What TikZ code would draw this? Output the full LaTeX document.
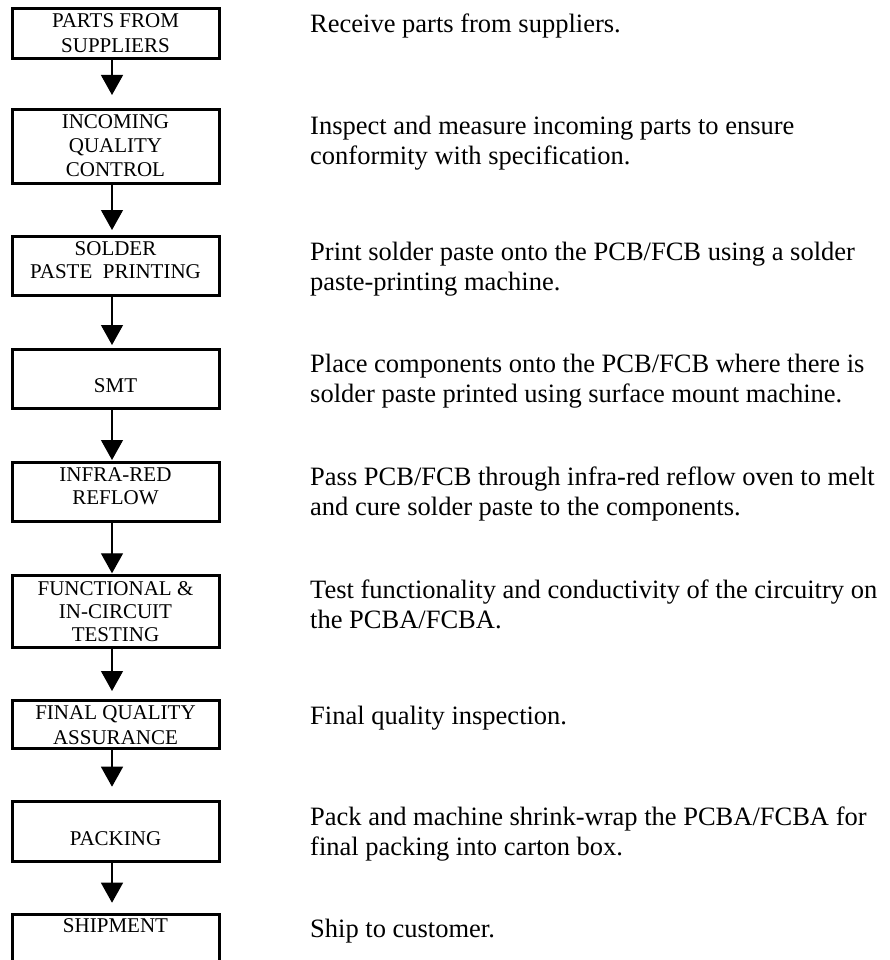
\documentclass[tikz,border=0pt]{standalone}
\usepackage{fontspec}
\setmainfont{Liberation Serif}
\usetikzlibrary{arrows.meta}
\tikzset{
  stepbox/.style={draw, line width=3pt, rectangle, inner sep=0pt, minimum width=206.5pt},
  flow/.style={line width=1.3pt, -{Triangle[length=20pt,width=22pt]}},
  boxtxt/.style={anchor=base, inner sep=0pt, font=\fontsize{21}{#1}\selectfont},
  boxtxt/.default=24,
  desc/.style={anchor=base west, inner sep=0pt, font=\fontsize{26.5}{30}\selectfont},
}
\newcommand\cstk[1]{\begin{tabular}[t]{@{}c@{}}#1\end{tabular}}
\newcommand\lstk[1]{\begin{tabular}[t]{@{}l@{}}#1\end{tabular}}
\begin{document}
\begin{tikzpicture}[x=1pt,y=-1pt]
\path[fill=white] (0,0) rectangle (890,960);
\useasboundingbox (0,0) rectangle (890,960);

% boxes
\node[stepbox, minimum height=49.3pt] (b1) at (115.75,33.65) {};
\node[stepbox, minimum height=73.3pt] (b2) at (115.75,146.65) {};
\node[stepbox, minimum height=59pt]   (b3) at (115.75,265.5) {};
\node[stepbox, minimum height=59.3pt] (b4) at (115.75,378.65) {};
\node[stepbox, minimum height=59.4pt] (b5) at (115.75,492) {};
\node[stepbox, minimum height=71.6pt] (b6) at (115.75,611.5) {};
\node[stepbox, minimum height=48pt]   (b7) at (115.75,724.3) {};
\node[stepbox, minimum height=60pt]   (b8) at (115.75,831.7) {};
\node[stepbox, minimum height=50.7pt] (b9) at (115.75,939.65) {};

% box texts
\node[boxtxt=25]   (l1) at (115.5,27.7)  {\cstk{PARTS FROM\\SUPPLIERS}};
\node[boxtxt=24]   (l2) at (115.5,129)   {\cstk{INCOMING\\QUALITY\\CONTROL}};
\node[boxtxt=23]   (l3) at (115.5,255)   {\cstk{SOLDER\\PASTE\ \ PRINTING}};
\node[boxtxt]      (l4) at (115.5,392)   {SMT};
\node[boxtxt=22.5] (l5) at (115.5,481.7) {\cstk{INFRA-RED\\REFLOW}};
\node[boxtxt=23]   (l6) at (115.5,595)   {\cstk{FUNCTIONAL \&\\IN-CIRCUIT\\TESTING}};
\node[boxtxt=24.7] (l7) at (115.5,719.3) {\cstk{FINAL QUALITY\\ASSURANCE}};
\node[boxtxt]      (l8) at (115.5,845)   {PACKING};
\node[boxtxt]      (l9) at (115.5,932.7) {SHIPMENT};

% arrows
\coordinate (ax) at (112,0);
\coordinate (t1) at (112,95);
\coordinate (t2) at (112,230);
\coordinate (t3) at (112,345);
\coordinate (t4) at (112,460);
\coordinate (t5) at (112,573.3);
\coordinate (t6) at (112,691);
\coordinate (t7) at (112,786.7);
\coordinate (t8) at (112,902.7);
\draw[flow] (b1.south -| ax) -- (t1);
\draw[flow] (b2.south -| ax) -- (t2);
\draw[flow] (b3.south -| ax) -- (t3);
\draw[flow] (b4.south -| ax) -- (t4);
\draw[flow] (b5.south -| ax) -- (t5);
\draw[flow] (b6.south -| ax) -- (t6);
\draw[flow] (b7.south -| ax) -- (t7);
\draw[flow] (b8.south -| ax) -- (t8);

% descriptions
\node[desc] (d1) at (310,33)  {Receive parts from suppliers.};
\node[desc] (d2) at (310,135) {\lstk{Inspect and measure incoming parts to ensure\\conformity with specification.}};
\node[desc] (d3) at (310,260) {\lstk{Print solder paste onto the PCB/FCB using a solder\\paste-printing machine.}};
\node[desc] (d4) at (310,372) {\lstk{Place components onto the PCB/FCB where there is\\solder paste printed using surface mount machine.}};
\node[desc] (d5) at (310,485) {\lstk{Pass PCB/FCB through infra-red reflow oven to melt\\and cure solder paste to the components.}};
\node[desc] (d6) at (310,598) {\lstk{Test functionality and conductivity of the circuitry on\\the PCBA/FCBA.}};
\node[desc] (d7) at (310,724) {Final quality inspection.};
\node[desc] (d8) at (310,825) {\lstk{Pack and machine shrink-wrap the PCBA/FCBA for\\final packing into carton box.}};
\node[desc] (d9) at (310,937) {Ship to customer.};
\end{tikzpicture}
\end{document}
